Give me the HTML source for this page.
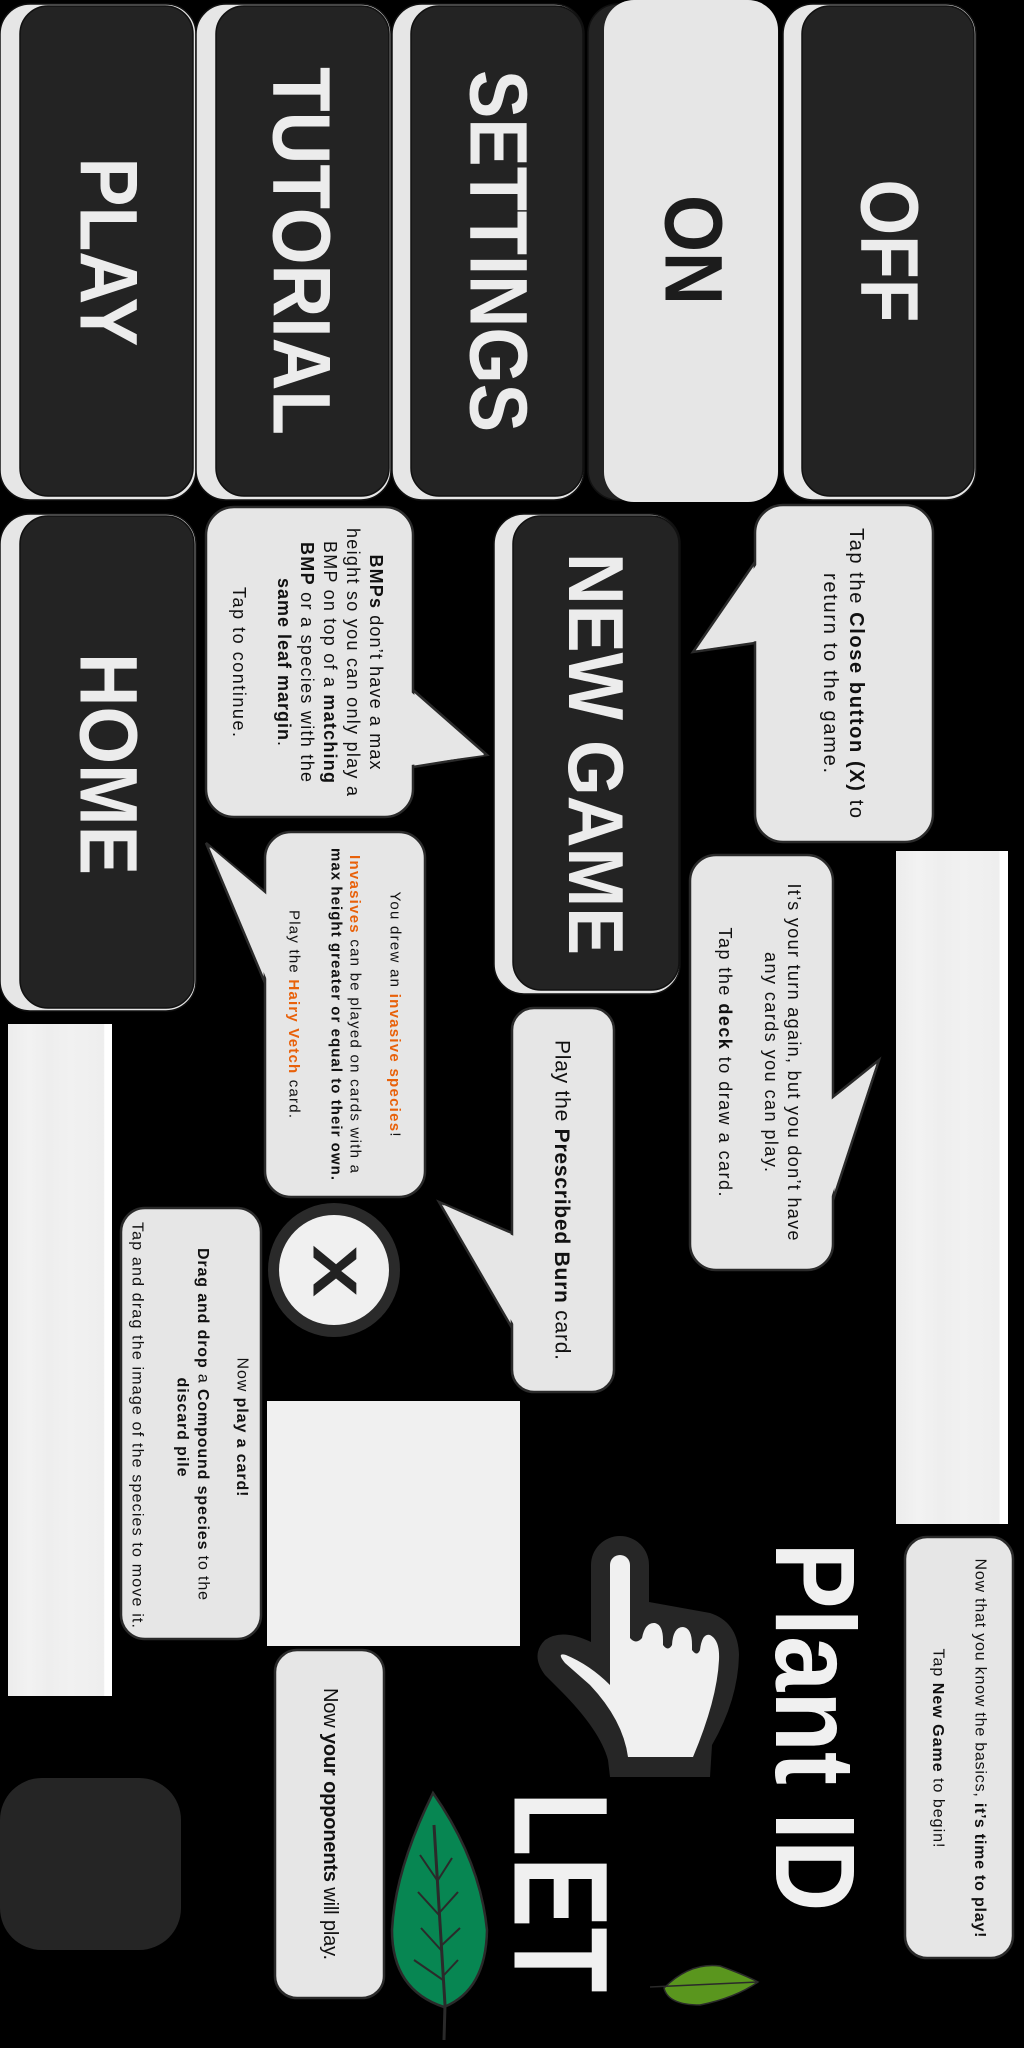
<!DOCTYPE html>
<html><head><meta charset="utf-8"><style>
html,body{margin:0;padding:0;background:#000;}
svg{display:block;}
text{font-family:"Liberation Sans",sans-serif;}
</style></head><body>
<svg width="1024" height="2048" viewBox="0 0 1024 2048" xmlns="http://www.w3.org/2000/svg">
<defs>
<linearGradient id="st" x1="0" y1="0" x2="1" y2="0">
<stop offset="0" stop-color="#ececec"/><stop offset="0.2" stop-color="#f2f2f2"/><stop offset="0.4" stop-color="#eeeeee"/><stop offset="0.6" stop-color="#f1f1f1"/><stop offset="0.92" stop-color="#eeeeee"/><stop offset="0.93" stop-color="#ffffff"/><stop offset="1" stop-color="#ffffff"/>
</linearGradient>
</defs>
<rect width="1024" height="2048" fill="#000"/>

<g stroke="#111" stroke-width="1.5">
<rect x="0" y="4" width="196" height="496" rx="30" fill="#e6e6e6"/>
<rect x="20" y="6" width="173" height="490" rx="28" fill="#232323"/>
<rect x="196" y="4" width="195" height="496" rx="30" fill="#e6e6e6"/>
<rect x="216" y="6" width="173" height="490" rx="28" fill="#232323"/>
<rect x="392" y="4" width="192" height="496" rx="30" fill="#e6e6e6"/>
<rect x="411" y="6" width="172" height="490" rx="28" fill="#232323"/>
<rect x="588" y="4" width="190" height="496" rx="30" fill="#232323"/>
<rect x="604" y="0" width="174" height="502" rx="30" fill="#e6e6e6" stroke="none"/>
<rect x="783" y="4" width="193" height="496" rx="30" fill="#e6e6e6"/>
<rect x="802" y="6" width="172" height="490" rx="28" fill="#232323"/>
<rect x="0" y="514" width="196" height="497" rx="30" fill="#e6e6e6"/>
<rect x="20" y="516" width="174" height="492" rx="28" fill="#232323"/>
<rect x="494" y="514" width="186" height="480" rx="30" fill="#e6e6e6"/>
<rect x="513" y="516" width="166" height="474" rx="28" fill="#232323"/>
</g>
<g font-weight="bold" font-size="82" dominant-baseline="central" text-anchor="middle" fill="#ececec">
<text transform="translate(108,252) rotate(90)" textLength="189" lengthAdjust="spacingAndGlyphs">PLAY</text>
<text transform="translate(301,251) rotate(90)" textLength="368" lengthAdjust="spacingAndGlyphs">TUTORIAL</text>
<text transform="translate(498,251) rotate(90)" textLength="362" lengthAdjust="spacingAndGlyphs">SETTINGS</text>
<text transform="translate(693,250) rotate(90)" textLength="110" lengthAdjust="spacingAndGlyphs" fill="#1c1c1c">ON</text>
<text transform="translate(889,251) rotate(90)" textLength="143" lengthAdjust="spacingAndGlyphs">OFF</text>
<text transform="translate(108,764) rotate(90)" textLength="222" lengthAdjust="spacingAndGlyphs">HOME</text>
<text transform="translate(596,754) rotate(90)" textLength="402" lengthAdjust="spacingAndGlyphs" font-size="78">NEW GAME</text>
</g>

<rect x="896" y="851" width="112" height="673" fill="url(#st)"/>
<rect x="8" y="1024" width="104" height="672" fill="url(#st)"/>
<rect x="267" y="1401" width="253" height="245" fill="#f0f0f0"/>
<rect x="0" y="1778" width="181" height="172" rx="42" fill="#252525"/>

<g fill="#e6e6e6" stroke="#2a2a2a" stroke-width="2.5">
<polygon points="413,690 487,755 413,767"/>
<rect x="206" y="507" width="207" height="310" rx="28"/>
<polygon points="755,562 693,652 755,643"/>
<rect x="755" y="505" width="178" height="337" rx="28"/>
<polygon points="265,892 206,843 265,983"/>
<rect x="265" y="832" width="160" height="365" rx="26"/>
<polygon points="833,1097 879,1060 833,1200"/>
<rect x="690" y="855" width="143" height="415" rx="26"/>
<polygon points="512,1233 439,1202 512,1328"/>
<rect x="512" y="1008" width="102" height="384" rx="22"/>
<rect x="121" y="1208" width="140" height="431" rx="24"/>
<rect x="275" y="1650" width="109" height="348" rx="22"/>
<rect x="905" y="1537" width="108" height="421" rx="22"/>
</g>
<g fill="#e6e6e6">
<polygon points="411,692 484,755 411,765"/>
<polygon points="757,564 697,650 757,641"/>
<polygon points="267,895 210,847 267,980"/>
<polygon points="831,1100 876,1065 831,1198"/>
<polygon points="514,1236 444,1205 514,1325"/>
</g>

<g font-size="18" fill="#111" dominant-baseline="central" text-anchor="middle" lengthAdjust="spacingAndGlyphs">
<text transform="translate(376,662) rotate(90)" textLength="215"><tspan font-weight="bold">BMPs</tspan> don’t have a max</text>
<text transform="translate(353,662) rotate(90)" textLength="268">height so you can only play a</text>
<text transform="translate(330,662) rotate(90)" textLength="242">BMP on top of a <tspan font-weight="bold">matching</tspan></text>
<text transform="translate(307,662) rotate(90)" textLength="240"><tspan font-weight="bold">BMP</tspan> or a species with the</text>
<text transform="translate(284,662) rotate(90)" textLength="168"><tspan font-weight="bold">same leaf margin</tspan>.</text>
<text transform="translate(239,662) rotate(90)" textLength="150">Tap to continue.</text>

<text transform="translate(856,673) rotate(90)" font-size="20" textLength="290">Tap the <tspan font-weight="bold">Close button (X)</tspan> to</text>
<text transform="translate(830,673) rotate(90)" font-size="20" textLength="200">return to the game.</text>

<text transform="translate(395,1014) rotate(90)" font-size="15" textLength="245">You drew an <tspan font-weight="bold" fill="#e8610a">invasive species</tspan>!</text>
<text transform="translate(355,1014) rotate(90)" font-size="15" textLength="318"><tspan font-weight="bold" fill="#e8610a">Invasives</tspan> can be played on cards with a</text>
<text transform="translate(336,1014) rotate(90)" font-size="15" font-weight="bold" textLength="332">max height greater or equal to their own.</text>
<text transform="translate(294,1014) rotate(90)" font-size="15" textLength="208">Play the <tspan font-weight="bold" fill="#e8610a">Hairy Vetch</tspan> card.</text>

<text transform="translate(794,1062) rotate(90)" font-size="18" textLength="357">It’s your turn again, but you don’t have</text>
<text transform="translate(771,1062) rotate(90)" font-size="18" textLength="220">any cards you can play.</text>
<text transform="translate(725,1062) rotate(90)" font-size="18" textLength="269">Tap the <tspan font-weight="bold">deck</tspan> to draw a card.</text>

<text transform="translate(562,1200) rotate(90)" font-size="21" textLength="320">Play the <tspan font-weight="bold">Prescribed Burn</tspan> card.</text>

<text transform="translate(242,1427) rotate(90)" font-size="16" textLength="139">Now <tspan font-weight="bold">play a card!</tspan></text>
<text transform="translate(203,1424) rotate(90)" font-size="16" textLength="352"><tspan font-weight="bold">Drag and drop</tspan> a <tspan font-weight="bold">Compound species</tspan> to the</text>
<text transform="translate(182,1427) rotate(90)" font-size="16" font-weight="bold" textLength="99">discard pile</text>
<text transform="translate(137,1425) rotate(90)" font-size="16" textLength="406">Tap and drag the image of the species to move it.</text>

<text transform="translate(330,1824) rotate(90)" font-size="20" textLength="272">Now <tspan font-weight="bold">your opponents</tspan> will play.</text>

<text transform="translate(980,1748) rotate(90)" font-size="16" textLength="379">Now that you know the basics, <tspan font-weight="bold">it’s time to play!</tspan></text>
<text transform="translate(938,1748) rotate(90)" font-size="16" textLength="199">Tap <tspan font-weight="bold">New Game</tspan> to begin!</text>
</g>

<ellipse cx="334" cy="1270" rx="66" ry="67" fill="#2a2a2a"/>
<ellipse cx="334" cy="1270" rx="55" ry="55" fill="#f0f0f0"/>
<text transform="translate(334,1271) rotate(90)" font-weight="bold" font-size="62" fill="#222" dominant-baseline="central" text-anchor="middle" textLength="52" lengthAdjust="spacingAndGlyphs">X</text>

<text transform="translate(815,1727) rotate(90)" font-weight="bold" font-size="113" fill="#f0f0f0" dominant-baseline="central" text-anchor="middle" textLength="369" lengthAdjust="spacingAndGlyphs">Plant ID</text>
<text transform="translate(560,1892) rotate(90)" font-weight="bold" font-size="134" fill="#f0f0f0" dominant-baseline="central" text-anchor="middle" textLength="201" lengthAdjust="spacingAndGlyphs">LET</text>

<path d="M591,1565 A29,29 0 0 1 649,1565 L649,1602 L710,1613 Q738,1622 739,1655 Q738,1700 712,1745 L710,1777 L610,1777 L608,1760 Q600,1730 560,1690 L545,1675 Q530,1655 545,1640 Q562,1628 591,1642 Z" fill="#262626"/>
<path d="M610,1565 A10,10 0 0 1 630,1565 L630,1638 Q636,1645 642,1638 Q645,1622 655,1623 Q663,1625 663,1640 L663,1645 Q668,1652 672,1645 Q673,1627 683,1627 Q692,1628 692,1645 L692,1650 Q697,1657 700,1650 Q702,1633 710,1635 Q720,1640 719,1660 Q717,1700 693,1757 L628,1757 Q623,1720 590,1685 L565,1663 Q556,1652 566,1655 Q590,1665 610,1685 Z" fill="#f0f0f0"/>

<path d="M433,1793 Q395,1870 392,1930 Q392,1990 444,2007 Q486,1990 487,1930 Q480,1860 433,1793 Z" fill="#078652" stroke="#2a2a2a" stroke-width="2.5"/>
<path d="M434,1825 Q440,1920 445,2005 L444,2040" fill="none" stroke="#2a2a2a" stroke-width="3"/>
<g stroke="#2a2a2a" stroke-width="2" fill="none">
<path d="M437,1880 L420,1855 M438,1880 L452,1858 M439,1915 L418,1892 M440,1912 L458,1892 M441,1950 L421,1928 M442,1945 L460,1928 M443,1980 L414,1960 M444,1975 L458,1960"/>
</g>
<path d="M664,1988 Q690,1962 720,1966 Q745,1975 758,1982 Q735,1998 700,2005 Q668,2005 664,1988 Z" fill="#5a961e" stroke="#2a2a2a" stroke-width="1.5"/>
<path d="M650,1987 L758,1982" stroke="#2a2a2a" stroke-width="1.5"/>
</svg>
</body></html>
